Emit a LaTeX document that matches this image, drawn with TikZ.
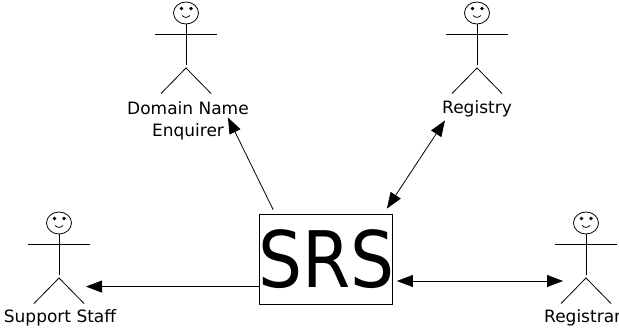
\documentclass[tikz,border=0pt]{standalone}
\usepackage{fontspec}
\setmainfont{DejaVu Sans}
\usetikzlibrary{arrows.meta}

\tikzset{
	actorline/.style={line width=0.8pt},
	actorname/.style={inner sep=0pt,align=center,font=\fontsize{17}{22}\selectfont},
	link/.style={line width=0.8pt,-{Triangle[length=16pt,width=12pt]}},
	bothlink/.style={line width=0.8pt,{Triangle[length=16pt,width=12pt]}-{Triangle[length=16pt,width=12pt]}}
}

\begin{document}
\begin{tikzpicture}[x=1pt,y=-1pt]
	\useasboundingbox (0,0) rectangle (619,329);

	%ACTORS
	\foreach \x/\y in {186/13,477/13,59/223,586/223}{
		\draw[actorline] (\x,\y) ellipse [x radius=12.5,y radius=11];
		\fill ({\x-4.5},{\y-4.5}) circle (1.8);
		\fill ({\x+5},{\y-4.5}) circle (1.8);
		\draw[actorline] ({\x-4},{\y+2.5}) .. controls ({\x-1},{\y+5}) and ({\x+1},{\y+5}) .. ({\x+4},{\y+2.5});
		\draw[actorline] (\x,{\y+11})--(\x,{\y+52});
		\draw[actorline] ({\x-31},{\y+21})--({\x+31},{\y+21});
		\draw[actorline] ({\x-25},{\y+80.5})--(\x,{\y+55})--({\x+25},{\y+80.5});
	}

	%LABELS
	\node[actorname] (domain) at (188,120.5) {Domain Name\\Enquirer};
	\node[actorname] (registry) at (477,109) {Registry};
	\node[actorname] (support) at (60,318) {Support Staff};
	\node[actorname,anchor=west] (registrar) at (544,318) {Registrar};

	%SYSTEM
	\node[draw,line width=0.8pt,inner sep=0pt,minimum width=133pt,minimum height=90pt] (srs) at (326,259)
		{\makebox[0pt]{\hspace{1pt}\raisebox{0.5pt}{\scalebox{0.89}[1]{\fontsize{78}{78}\selectfont SRS}}}};

	%CONNECTORS
	\draw[link] ([xshift=14pt,yshift=4pt]srs.north west)--([xshift=-21pt,yshift=3pt]domain.east);
	\draw[bothlink] ([xshift=-6pt,yshift=5pt]srs.north east)--([xshift=3pt,yshift=-3pt]registry.south west);
	\draw[bothlink] ([xshift=4pt,yshift=-22pt]srs.east)--([xshift=19pt,yshift=37pt]registrar.west);
	\draw[link] ([yshift=-27.5pt]srs.west)--([xshift=26pt,yshift=23pt]support.north);
\end{tikzpicture}
\end{document}
